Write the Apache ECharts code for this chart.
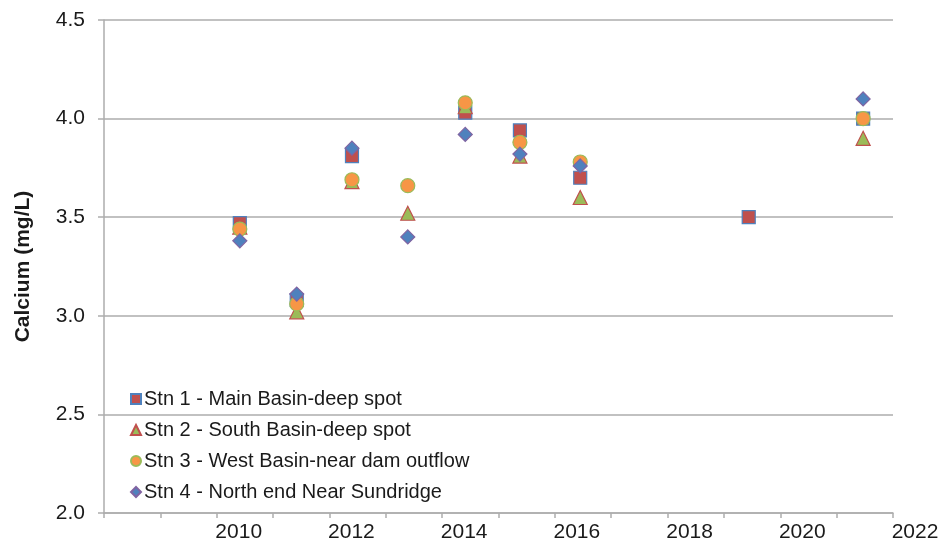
<!DOCTYPE html>
<html>
<head>
<meta charset="utf-8">
<script src="https://cdn.jsdelivr.net/npm/echarts@6/dist/echarts.min.js"></script>
<style>html,body{margin:0;padding:0;background:#fff}#c{width:943px;height:548px}</style>
</head>
<body>
<div id="c"></div>
<script>
// sampling dates (decimal years)
const sampleYears = [2010.41, 2011.42, 2012.40, 2013.39, 2014.41, 2015.38, 2016.45, 2019.44, 2021.47];
const stn1 = [3.47, 3.08, 3.81, null, 4.03, 3.94, 3.70, 3.50, 4.00];
const stn2 = [3.45, 3.02, 3.68, 3.52, 4.06, 3.81, 3.60, null, 3.90];
const stn3 = [3.44, 3.06, 3.69, 3.66, 4.08, 3.88, 3.78, null, 4.00];
const stn4 = [3.38, 3.11, 3.85, 3.40, 3.92, 3.82, 3.76, null, 4.10];
const seriesNames = [
  'Stn 1 - Main Basin-deep spot',
  'Stn 2 - South Basin-deep spot',
  'Stn 3 - West Basin-near dam outflow',
  'Stn 4 - North end Near Sundridge'
];
const xTickLabels = [2010, 2012, 2014, 2016, 2018, 2020, 2022];

function pairs(vals) {
  const out = [];
  vals.forEach((v, i) => { if (v !== null) out.push([sampleYears[i], v]); });
  return out;
}

const styles = [
  {symbol: 'rect', size: 13, color: '#C0504D', border: '#4F81BD'},
  {symbol: 'triangle', size: 14, color: '#9BBB59', border: '#C0504D'},
  {symbol: 'circle', size: 14, color: '#F79646', border: '#9BBB59'},
  {symbol: 'diamond', size: 14, color: '#4F81BD', border: '#8064A2'}
];
const allVals = [stn1, stn2, stn3, stn4];

const chart = echarts.init(document.getElementById('c'));
const gridColor = '#adadad';
const textColor = '#1a1a1a';
chart.setOption({
  animation: false,
  grid: {left: 104, right: 50, top: 20, bottom: 35},
  legend: {
    orient: 'vertical', left: 130, top: 389, padding: 0, itemGap: 11,
    itemWidth: 10, itemHeight: 10,
    textStyle: {fontFamily: 'Liberation Sans, Arial, sans-serif', fontSize: 20, color: textColor, padding: [0,0,0,-2]},
    data: seriesNames
  },
  xAxis: {
    type: 'value', min: 2008, max: 2022, interval: 1,
    axisLine: {show: true, lineStyle: {color: gridColor, width: 1.5}},
    axisTick: {show: true, length: 5, lineStyle: {color: gridColor, width: 1.5}},
    splitLine: {show: false},
    axisLabel: {
      fontFamily: 'Liberation Sans, Arial, sans-serif', fontSize: 21, color: textColor,
      margin: 9, padding: [0, 0, 0, 44], showMinLabel: true, showMaxLabel: true,
      formatter: v => xTickLabels.indexOf(Math.round(v)) >= 0 ? String(Math.round(v)) : ''
    }
  },
  yAxis: {
    type: 'value', min: 2, max: 4.5, interval: 0.5,
    name: 'Calcium (mg/L)', nameLocation: 'middle', nameGap: 70,
    nameTextStyle: {fontFamily: 'Liberation Sans, Arial, sans-serif', fontSize: 21, fontWeight: 'bold', color: textColor},
    axisLine: {show: true, lineStyle: {color: gridColor, width: 1.5}},
    axisTick: {show: true, length: 6, lineStyle: {color: gridColor, width: 1.5}},
    splitLine: {show: true, lineStyle: {color: gridColor, width: 1.5}},
    axisLabel: {
      fontFamily: 'Liberation Sans, Arial, sans-serif', fontSize: 21, color: textColor, margin: 19,
      formatter: v => v.toFixed(1)
    }
  },
  series: seriesNames.map((n, i) => ({
    name: n, type: 'scatter', symbol: styles[i].symbol, symbolSize: styles[i].size,
    itemStyle: {color: styles[i].color, borderColor: styles[i].border, borderWidth: 1.2, opacity: 1},
    data: pairs(allVals[i])
  }))
});
</script>
</body>
</html>
